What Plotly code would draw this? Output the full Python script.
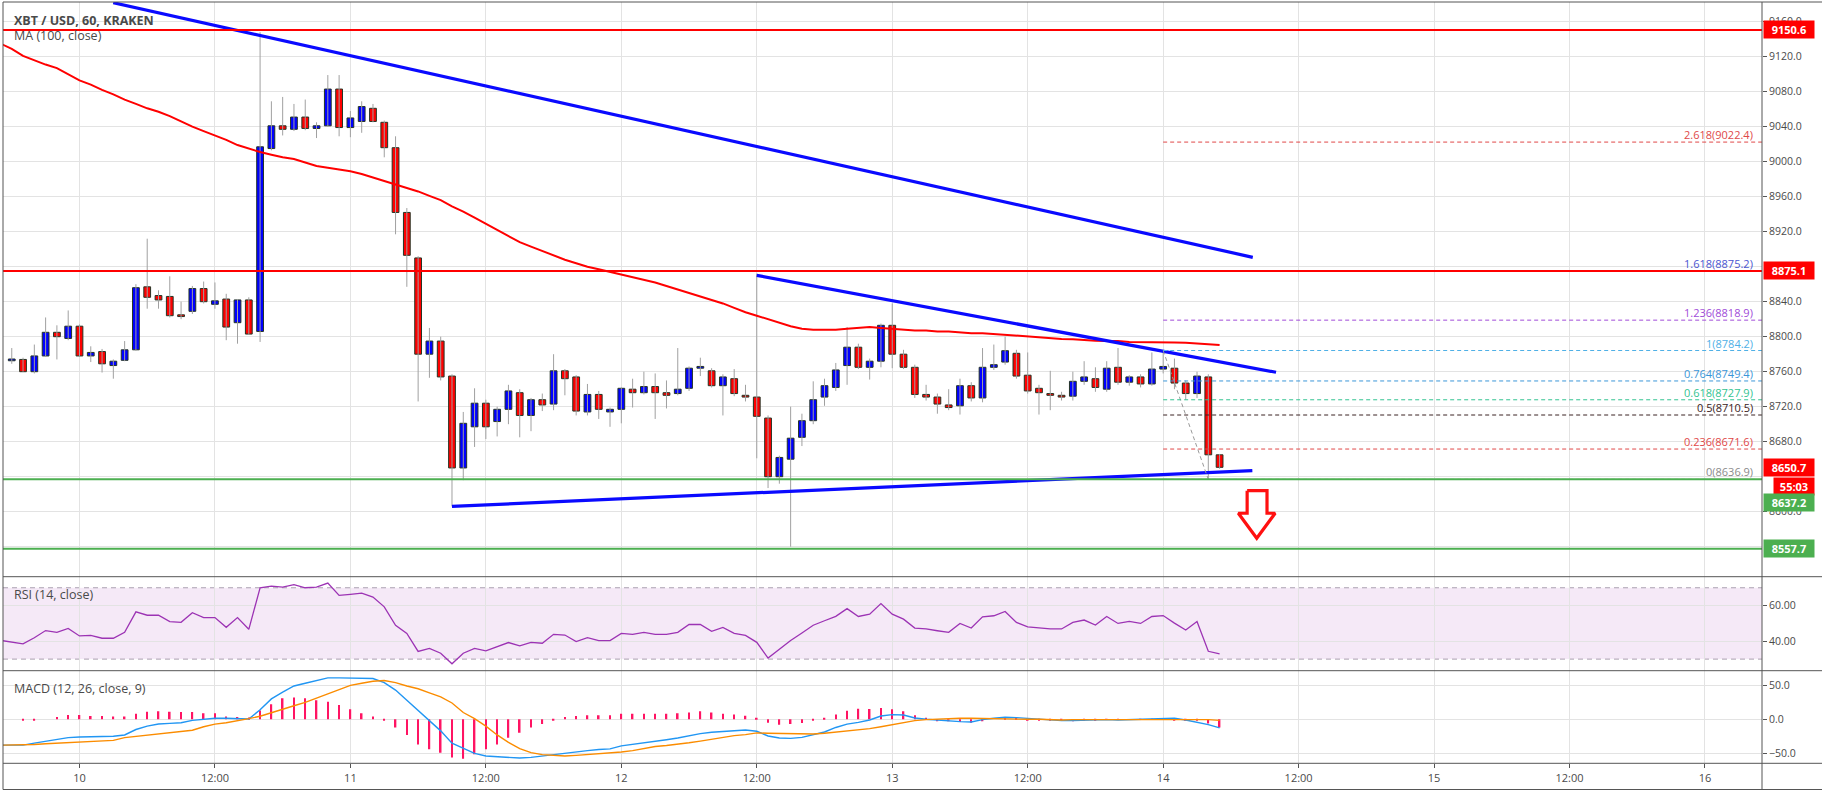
import plotly.graph_objects as go
from datetime import datetime, timedelta

W, H = 1822, 794
FONT = "Open Sans"
T0 = datetime(2019, 11, 10, 0, 0)

# ---------------- data (hourly candles, hour offsets from day "10" 00:00) -------------
HOURS = list(range(-6, 102))
OPEN = [8772.5, 8774, 8760, 8778, 8805, 8798, 8812, 8778, 8783, 8767, 8773, 8785, 8857, 8847, 8846, 8825,
        8829, 8855, 8837, 8843, 8816, 8842, 8806, 9015, 9041, 9037, 9051, 9038, 9041, 9083, 9039, 9046,
        9061, 9045, 9016, 8942, 8890, 8780, 8795, 8755, 8650, 8697, 8724, 8703, 8717, 8736, 8710, 8728,
        8723, 8761, 8754, 8714, 8734, 8714, 8717, 8740, 8736, 8743, 8736, 8735, 8741, 8764, 8761, 8744,
        8752, 8733, 8731, 8707, 8640, 8660, 8685, 8704, 8731, 8742, 8767, 8788, 8765, 8772, 8813, 8780,
        8765, 8734, 8731, 8722, 8721, 8744, 8730, 8765, 8771, 8781, 8756, 8741, 8735, 8733, 8732, 8749,
        8752, 8740, 8765, 8748, 8754, 8746, 8763, 8764, 8747, 8735, 8754, 8665]
HIGH = [8787, 8776, 8791, 8822, 8813, 8830, 8814, 8789, 8786, 8774, 8795, 8860, 8912, 8853, 8869, 8840,
        8858, 8863, 8862, 8849, 8843, 8845, 9148, 9069, 9074, 9066, 9071, 9045, 9099, 9099, 9058, 9069,
        9066, 9047, 9029, 8947, 8892, 8810, 8800, 8757, 8714, 8741, 8728, 8720, 8745, 8740, 8730, 8735,
        8780, 8763, 8756, 8746, 8738, 8719, 8742, 8752, 8760, 8758, 8750, 8787, 8766, 8776, 8764, 8757,
        8763, 8745, 8872, 8710, 8664, 8720, 8712, 8749, 8752, 8770, 8811, 8792, 8775, 8815, 8838, 8785,
        8768, 8745, 8735, 8740, 8752, 8748, 8787, 8791, 8800, 8785, 8782, 8745, 8761, 8737, 8760, 8772,
        8765, 8772, 8787, 8756, 8757, 8782, 8784.2, 8775, 8750, 8760, 8757, 8666]
LOW = [8769, 8760, 8758, 8777, 8774, 8796, 8777, 8771, 8759, 8752, 8772, 8784, 8832, 8832, 8822, 8820,
       8826, 8838, 8832, 8796, 8792, 8802, 8794, 9013, 9030, 9035, 9036, 9027, 9040, 9029, 9028, 9033,
       9045, 9005, 8917, 8857, 8726, 8753, 8750, 8606, 8636, 8674, 8683, 8686, 8700, 8685, 8692, 8715,
       8716, 8733, 8710, 8710, 8706, 8697, 8701, 8719, 8734, 8706, 8718, 8733, 8738, 8755, 8742, 8710,
       8732, 8726, 8661, 8627, 8632, 8560, 8675, 8700, 8721, 8738, 8745, 8763, 8751, 8765, 8764, 8763,
       8730, 8727, 8712, 8716, 8711, 8726, 8725, 8762, 8768, 8752, 8735, 8711, 8716, 8727, 8727, 8745,
       8737, 8737, 8745, 8744, 8742, 8744, 8758, 8740, 8728, 8730, 8636.9, 8649]
CLOSE = [8774.5, 8760, 8778, 8805, 8800, 8812, 8778, 8782, 8769, 8772, 8785, 8856, 8845, 8842, 8824, 8823,
         8855, 8840, 8841, 8811, 8842, 8803, 9017, 9041, 9037, 9051, 9038, 9041, 9083, 9039, 9050, 9063,
         9046, 9016, 8942, 8893, 8780, 8795, 8754, 8650, 8701, 8724, 8697, 8717, 8738, 8710, 8728, 8722,
         8761, 8752, 8715, 8734, 8717, 8717, 8741, 8736, 8743, 8736, 8733, 8740, 8764, 8766, 8744, 8754,
         8735, 8731, 8709, 8640, 8662, 8684, 8704, 8728, 8744, 8762, 8788, 8765, 8772, 8813, 8780, 8765,
         8734, 8731, 8723, 8719, 8744, 8730, 8765, 8768, 8784, 8755, 8738, 8736, 8733, 8731, 8749, 8754,
         8742, 8764, 8748, 8754, 8746, 8763, 8766, 8747, 8735, 8755, 8665, 8650.7]

# indicator series: hour offsets -7 .. 101
IND_HOURS = list(range(-7, 102))
MA100 = [9135, 9129, 9121, 9116, 9111, 9107, 9100, 9093, 9088, 9082, 9077, 9071, 9066, 9061, 9057, 9052,
         9046, 9040, 9035, 9030, 9025, 9019, 9015, 9011, 9008, 9005, 9003, 8999, 8995, 8993, 8991, 8989,
         8986, 8982, 8978, 8974, 8970, 8966, 8961, 8956, 8949, 8943, 8936, 8929, 8922, 8915, 8908, 8903,
         8898, 8893, 8888, 8884, 8880, 8877, 8874, 8871, 8868, 8865, 8862, 8858, 8854, 8850, 8846, 8842,
         8838, 8833, 8828, 8824, 8820, 8816, 8812, 8809, 8808, 8808, 8808, 8809, 8810, 8811, 8810, 8809,
         8808, 8807, 8807, 8806, 8806, 8805, 8804, 8804, 8803, 8802, 8801, 8800, 8799, 8798, 8797.5, 8797,
         8796, 8795.5, 8795, 8795, 8794, 8794, 8794, 8794, 8793.5, 8793, 8792.5, 8791.5, 8790.5]
RSI = [40.5, 39.7, 38.5, 42, 46, 45, 47.2, 43, 43.3, 41.7, 41.7, 45, 56.5, 54.6, 54.6, 51, 50.6, 56, 53.3,
       53.3, 47.8, 53.3, 46.7, 70, 70.9, 70.4, 71.7, 70, 70.3, 72.6, 65.7, 66.3, 67, 64.8, 59.3, 49, 44.4,
       34.3, 36, 33.3, 27.4, 33.3, 36, 34.6, 37, 39.3, 37.4, 39.4, 38.9, 43.9, 43.5, 39.8, 42, 40.4, 40.4,
       44.4, 43.9, 45, 43.9, 43.9, 45, 49.4, 49.4, 45.6, 47.8, 44.4, 43.3, 39.4, 30.6, 35.7, 40.4, 44.6, 49,
       51.5, 54, 58.3, 53.9, 55.2, 61.1, 55.2, 52.4, 47.4, 46.9, 45.9, 45, 50, 47.4, 53.7, 54.3, 56.7, 50.6,
       48.1, 47.4, 46.9, 46.9, 50.6, 51.9, 49.1, 53.9, 50, 51.1, 50, 53.9, 54.4, 50.2, 46.3, 51.1, 34.4, 33]
MACD = [-38, -38, -38, -35, -32, -29, -27, -26, -26, -26, -25, -23, -15, -10, -7, -6, -5, -1.5, 0.5, 1.5,
        1.5, 1, 0.5, 14, 30, 40, 49, 53, 57, 61, 61, 61, 61, 60, 54, 43, 28, 13, -2, -17, -35, -42, -50, -54,
        -55, -55.5, -57, -56, -54, -51, -50, -48, -46, -44.5, -43.5, -39, -37, -35, -32.5, -30, -27.5, -24,
        -21, -19, -17.6, -16.5, -15.7, -17.6, -24.5, -27.5, -28, -26.5, -23, -18.6, -12, -7, -4.5, -1, 4.9,
        6.9, 6.4, 2, 0, -1.5, -2.5, -3.4, -4, -0.5, 1.5, 3, 2.5, 1.5, 0, -1.5, -2, -2, -1.5, -0.5, -0.5, -1,
        -0.5, 0.5, 1.5, 1.5, 1.5, -1, -4, -7.8, -12.7]
SIGNAL = [-38, -38, -38, -37, -36, -35, -34, -33, -33, -32, -31, -27, -25, -23, -21, -19, -17.5, -16, -11,
          -7, -5, -2.5, 1, 4.5, 10, 15.5, 20, 25, 31, 38, 44, 50, 53, 56, 57, 54, 49, 45, 39, 33, 24, 10, 1,
          -10, -23, -34, -43, -49, -52, -53.5, -54, -53, -52, -51, -50, -48, -46, -43, -40, -38.5, -37, -34.5,
          -32, -29, -26, -24, -22.5, -20, -20.5, -21, -21.5, -22, -21.5, -20.6, -19, -17.6, -15.5, -13.7, -11,
          -7.8, -5, -2, -0.5, 0.5, 1, 1.5, 1.5, 1, 0.5, 0, 0, 0, 0, -1, -1, -0.5, -0.5, -0.5, -0.5, -0.5, 0,
          0, 0.5, 0.5, 0.5, 0, 0, -0.5, -1.5]
HIST_HOURS = list(range(-6, 102))
HIST = [0, -1, -1.5, 0, 3.4, 6.4, 6.4, 5, 5, 4, 4, 8, 11, 12, 11, 10.8, 10.8, 9, 9, 4, 3.4, 2.5, 13, 22, 31,
        32, 31, 28, 26, 21, 14.7, 9, 4, -1.5, -12, -23, -37, -44, -49, -56, -58, -51.5, -44, -37, -27, -19.6,
        -12, -7, -1.5, 3.4, 5, 6, 6, 6, 8, 8, 8, 8, 8, 9, 10, 12, 10, 8, 7, 5.4, 2, -5, -8, -7, -5.4, -2, 2,
        7, 12.7, 15.7, 15.2, 16.7, 14.7, 11.8, 6, 1, -3, -3, -4, -5, -3, 0, 2, 2, -1, -1, -2, -2, -3, -1.5,
        -1, -0.5, -0.5, 0, 0.5, 0.5, 0.5, -1, -2, -1, -6, -12]

# horizontal levels
RES_LEVELS = [9150.6, 8875.1]
SUP_LEVELS = [8637.2, 8557.7]
CURRENT_PRICE = 8650.7
COUNTDOWN = "55:03"

# trend lines (hour offset, price) pairs
TREND1_H, TREND1_P = [2.99, 103.94], [9181.7, 8890.7]
TREND2_H, TREND2_P = [60.0, 106.0], [8870.1, 8759.3]
TREND3_H, TREND3_P = [33.0, 103.9], [8606.0, 8647.0]

# fibonacci extension
FIB_START_H = 96
FIB_SWING_H, FIB_SWING_P = [96, 100], [8784.2, 8636.9]
FIB_RATIOS = ["2.618", "1.618", "1.236", "1", "0.764", "0.618", "0.5", "0.236", "0"]
FIB_LEVELS = [9022.4, 8875.2, 8818.9, 8784.2, 8749.4, 8727.9, 8710.5, 8671.6, 8636.9]
FIB_COLORS = ["#e04848", "#4a55d0", "#a04bd8", "#4fb0e6", "#3b96d8", "#33c391", "#3a2222", "#e04848", "#8a8a8a"]

# down arrow outline (hour offset, price)
ARROW_H = [103.44, 105.2, 105.2, 105.92, 104.29, 102.66, 103.44, 103.44]
ARROW_P = [8624, 8624, 8598.2, 8598.2, 8569.6, 8598.2, 8598.2, 8624]

TICK_HOURS = list(range(0, 145, 12))
TICK_TEXT = ["10", "12:00", "11", "12:00", "12", "12:00", "13", "12:00", "14", "12:00", "15", "12:00", "16"]

# price-axis labels that remain readable (the others sit behind the coloured boxes)
PRICE_TICKS = [8600, 8680, 8720, 8760, 8800, 8840, 8920, 8960, 9000, 9040, 9080, 9120, 9160]
PRICE_GRID_ONLY = [8560, 8640, 8880]

X_RANGE_H = [-6.775, 149.05]
PRICE_RANGE = [8525.7, 9182.5]
RSI_RANGE = [23.5, 76.2]
MACD_RANGE = [-64.7, 71.5]


def t(h):
    return T0 + timedelta(hours=h)


def px_x(p):
    return p / W


def px_y(p):
    return 1 - p / H


fig = go.Figure()

# wicks
wx, wy = [], []
for h, lo, hi in zip(HOURS, LOW, HIGH):
    wx += [t(h), t(h), None]
    wy += [lo, hi, None]
fig.add_trace(go.Scatter(x=wx, y=wy, mode="lines", line=dict(color="#a0a0a0", width=1),
                         xaxis="x", yaxis="y", hoverinfo="skip"))

# bodies
bx = [t(h) for h in HOURS]
base = [min(o, c) for o, c in zip(OPEN, CLOSE)]
size = [max(abs(c - o), 0.3) for o, c in zip(OPEN, CLOSE)]
cols = ["#0000ff" if c >= o else "#ff0000" for o, c in zip(OPEN, CLOSE)]
fig.add_trace(go.Bar(x=bx, y=size, base=base, width=[0.6 * 3600000] * len(bx),
                     marker=dict(color=cols, line=dict(color="#253525", width=1)),
                     xaxis="x", yaxis="y", hoverinfo="skip"))

# MA 100
fig.add_trace(go.Scatter(x=[t(h) for h in IND_HOURS], y=MA100, mode="lines",
                         line=dict(color="#ff0000", width=2), xaxis="x", yaxis="y"))

# trend lines
for hh, pp in [(TREND1_H, TREND1_P), (TREND2_H, TREND2_P), (TREND3_H, TREND3_P)]:
    fig.add_trace(go.Scatter(x=[t(v) for v in hh], y=pp, mode="lines",
                             line=dict(color="#0a0aff", width=3.2), xaxis="x", yaxis="y"))

# fib swing diagonal
fig.add_trace(go.Scatter(x=[t(v) for v in FIB_SWING_H], y=FIB_SWING_P, mode="lines",
                         line=dict(color="#9a9a9a", width=1, dash="4px,3px"), xaxis="x", yaxis="y"))

# arrow
fig.add_trace(go.Scatter(x=[t(v) for v in ARROW_H], y=ARROW_P, mode="lines", fill="toself",
                         fillcolor="white", line=dict(color="#ff1010", width=3.2), xaxis="x", yaxis="y"))

# RSI
fig.add_trace(go.Scatter(x=[t(h) for h in IND_HOURS], y=RSI, mode="lines",
                         line=dict(color="#9c33b4", width=1.3), xaxis="x2", yaxis="y2"))

# MACD
fig.add_trace(go.Bar(x=[t(h) for h in HIST_HOURS], y=HIST, width=[0.14 * 3600000] * len(HIST),
                     marker=dict(color="#ff1463", line=dict(width=0)), xaxis="x3", yaxis="y3"))
fig.add_trace(go.Scatter(x=[t(h) for h in IND_HOURS], y=MACD, mode="lines",
                         line=dict(color="#2196f3", width=1.4), xaxis="x3", yaxis="y3"))
fig.add_trace(go.Scatter(x=[t(h) for h in IND_HOURS], y=SIGNAL, mode="lines",
                         line=dict(color="#fb8c00", width=1.4), xaxis="x3", yaxis="y3"))

shapes = []
# RSI band
shapes.append(dict(type="rect", xref="x2 domain", yref="y2", x0=0, x1=1, y0=30, y1=70,
                   fillcolor="rgba(156,39,176,0.10)", line=dict(width=0), layer="below"))
for lv in [70, 30]:
    shapes.append(dict(type="line", xref="x2 domain", yref="y2", x0=0, x1=1, y0=lv, y1=lv,
                       line=dict(color="#aaa0b0", width=1, dash="5px,4px"), layer="below"))
# fib lines
for lv, col in zip(FIB_LEVELS, FIB_COLORS):
    shapes.append(dict(type="line", xref="x", yref="y", x0=t(FIB_START_H), x1=t(X_RANGE_H[1]),
                       y0=lv, y1=lv, line=dict(color=col, width=1, dash="4px,3px")))
# horizontal S/R lines
for lv in RES_LEVELS:
    shapes.append(dict(type="line", xref="x domain", yref="y", x0=0, x1=1, y0=lv, y1=lv,
                       line=dict(color="#ff0000", width=2)))
for lv in SUP_LEVELS:
    shapes.append(dict(type="line", xref="x domain", yref="y", x0=0, x1=1, y0=lv, y1=lv,
                       line=dict(color="#4caf50", width=2)))
# panel borders
BORDER = "#555555"
for yy in [2, 576.7, 670.7, 763.3, 789.5]:
    shapes.append(dict(type="line", xref="paper", yref="paper", x0=px_x(3), x1=1, y0=px_y(yy), y1=px_y(yy),
                       line=dict(color=BORDER, width=1)))
for xx in [3, 1762]:
    shapes.append(dict(type="line", xref="paper", yref="paper", x0=px_x(xx), x1=px_x(xx), y0=px_y(2),
                       y1=px_y(789.5), line=dict(color=BORDER, width=1)))

annotations = []
TXT = "#4a4a4a"
annotations.append(dict(xref="paper", yref="paper", x=px_x(12), y=px_y(20), xanchor="left", yanchor="middle",
                        text="<b>XBT / USD, 60, KRAKEN</b>", showarrow=False,
                        font=dict(family=FONT, size=12.5, color=TXT)))
annotations.append(dict(xref="paper", yref="paper", x=px_x(12), y=px_y(36), xanchor="left", yanchor="middle",
                        text="MA (100, close)", showarrow=False, font=dict(family=FONT, size=12.5, color=TXT)))
annotations.append(dict(xref="paper", yref="paper", x=px_x(12), y=px_y(594), xanchor="left", yanchor="middle",
                        text="RSI (14, close)", showarrow=False, font=dict(family=FONT, size=12.5, color=TXT)))
annotations.append(dict(xref="paper", yref="paper", x=px_x(12), y=px_y(688), xanchor="left", yanchor="middle",
                        text="MACD (12, 26, close, 9)", showarrow=False,
                        font=dict(family=FONT, size=12.5, color=TXT)))
# fib labels
for r, lv, col in zip(FIB_RATIOS, FIB_LEVELS, FIB_COLORS):
    annotations.append(dict(xref="paper", yref="y", x=px_x(1755), y=lv, xanchor="right", yanchor="bottom",
                            yshift=-2, text=f"{r}({lv:.1f})", showarrow=False,
                            font=dict(family=FONT, size=11, color=col)))
# price-axis boxes
boxes = [(RES_LEVELS[0], f"{RES_LEVELS[0]:.1f}", "#ff0000", 0, 1762.5, 48),
         (RES_LEVELS[1], f"{RES_LEVELS[1]:.1f}", "#ff0000", 0, 1762.5, 48),
         (CURRENT_PRICE, f"{CURRENT_PRICE:.1f}", "#ff0000", 0, 1762.5, 48),
         (CURRENT_PRICE, COUNTDOWN, "#ff0000", -19, 1772.5, 38),
         (SUP_LEVELS[0], f"{SUP_LEVELS[0]:.1f}", "#4caf50", -23, 1762.5, 48),
         (SUP_LEVELS[1], f"{SUP_LEVELS[1]:.1f}", "#4caf50", 0, 1762.5, 48)]
for val, txt, col, shift, xpos, wd in boxes:
    annotations.append(dict(xref="paper", yref="y", x=px_x(xpos), y=val, xanchor="left", yanchor="middle",
                            yshift=shift, text=f"<b>{txt}</b>", showarrow=False, bgcolor=col, borderpad=1,
                            width=wd, height=15, align="center",
                            font=dict(family=FONT, size=11, color="white")))

GRID = "#e3e3e3"
xcommon = dict(domain=[px_x(3), px_x(1762)], range=[t(X_RANGE_H[0]), t(X_RANGE_H[1])], type="date",
               tickvals=[t(h) for h in TICK_HOURS], ticktext=TICK_TEXT, showgrid=True, gridcolor=GRID,
               gridwidth=1, zeroline=False, showline=False)
tickfont = dict(family=FONT, size=10.5, color=TXT)
ycommon = dict(side="right", showgrid=True, gridcolor=GRID, zeroline=False, showline=False, ticks="outside",
               ticklen=4, tickcolor="#555555", tickfont=tickfont, fixedrange=True)

fig.update_layout(
    width=W, height=H, margin=dict(l=0, r=0, t=0, b=0), paper_bgcolor="white", plot_bgcolor="white",
    showlegend=False, hovermode=False, barmode="overlay", shapes=shapes, annotations=annotations,
    xaxis=dict(**xcommon, anchor="y", showticklabels=False, ticks=""),
    xaxis2=dict(**xcommon, anchor="y2", matches="x", showticklabels=False, ticks=""),
    xaxis3=dict(**xcommon, anchor="y3", matches="x", showticklabels=True, ticks="outside", ticklen=4,
                tickcolor="#555555", tickfont=dict(family=FONT, size=11, color=TXT)),
    yaxis=dict(**ycommon, anchor="x", domain=[px_y(576.7), px_y(2)], range=PRICE_RANGE,
               tickvals=PRICE_TICKS, tickformat=".1f",
               minor=dict(tickvals=PRICE_GRID_ONLY, showgrid=True, gridcolor=GRID, ticks="")),
    yaxis2=dict(**ycommon, anchor="x2", domain=[px_y(670.7), px_y(576.7)], range=RSI_RANGE,
                tickvals=[40, 60], tickformat=".2f"),
    yaxis3=dict(**ycommon, anchor="x3", domain=[px_y(763.3), px_y(670.7)], range=MACD_RANGE,
                tickvals=[-50, 0, 50], tickformat=".1f"),
)

fig.write_html("out.html")
